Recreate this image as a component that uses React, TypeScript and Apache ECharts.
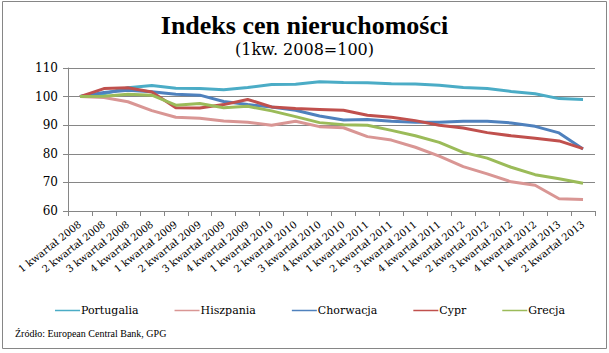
import React, { useEffect, useRef } from "react";
import * as echarts from "echarts";

const categories = [
  "1 kwartał 2008", "2 kwartał 2008", "3 kwartał 2008", "4 kwartał 2008",
  "1 kwartał 2009", "2 kwartał 2009", "3 kwartał 2009", "4 kwartał 2009",
  "1 kwartał 2010", "2 kwartał 2010", "3 kwartał 2010", "4 kwartał 2010",
  "1 kwartał 2011", "2 kwartał 2011", "3 kwartał 2011", "4 kwartał 2011",
  "1 kwartał 2012", "2 kwartał 2012", "3 kwartał 2012", "4 kwartał 2012",
  "1 kwartał 2013", "2 kwartał 2013",
];

const portugalia = [100, 101, 103.1, 103.9, 102.9, 102.8, 102.4, 103.2, 104.2, 104.3, 105.2, 104.9, 104.8, 104.5, 104.4, 104.0, 103.2, 102.8, 101.8, 101.0, 99.3, 99.0];
const hiszpania = [100, 99.7, 98.2, 95.1, 92.8, 92.4, 91.5, 91.0, 90.0, 91.4, 89.5, 89.1, 86.0, 84.8, 82.3, 79.2, 75.5, 73.0, 70.2, 69.0, 64.3, 64.0];
const chorwacja = [100, 101.4, 102.2, 101.7, 100.8, 100.5, 98.3, 97.2, 96.4, 95.2, 93.2, 91.8, 92.0, 91.4, 91.0, 91.0, 91.4, 91.4, 90.8, 89.6, 87.3, 81.7];
const cypr = [100, 102.8, 103.1, 101.6, 96.1, 96.0, 97.2, 99.0, 96.4, 95.8, 95.5, 95.2, 93.5, 92.8, 91.6, 90.0, 89.0, 87.4, 86.3, 85.4, 84.5, 81.8];
const grecja = [100, 100.1, 100.8, 100.5, 97.0, 97.6, 96.1, 96.6, 95.0, 93.0, 90.9, 90.2, 90.0, 88.2, 86.3, 84.0, 80.5, 78.5, 75.3, 72.7, 71.3, 69.7];

const seriesNames = ["Portugalia", "Hiszpania", "Chorwacja", "Cypr", "Grecja"];
const seriesData = [portugalia, hiszpania, chorwacja, cypr, grecja];
const seriesColors = ["#4BACC6", "#D99694", "#4F81BD", "#C0504D", "#9BBB59"];

const titleText = "Indeks cen nieruchomości";
const subtitleText = "(1kw. 2008=100)";
const sourceText = "Źródło: European Central Bank, GPG";

const FONT = "Liberation Serif";
const FONT2 = "DejaVu Serif";

export default function App() {
  const ref = useRef<HTMLDivElement>(null);
  useEffect(() => {
    document.body.style.margin = "0";
    if (!ref.current) return;
    const chart = echarts.init(ref.current, null, { renderer: "svg" });
    chart.setOption({
      animation: false,
      backgroundColor: "#ffffff",
      color: seriesColors,
      textStyle: { fontFamily: FONT2 },
      title: [
        {
          text: titleText,
          left: "center",
          top: 7,
          textStyle: { fontFamily: FONT, fontWeight: "bold", fontSize: 26, color: "#000" },
        },
        {
          text: subtitleText,
          left: "center",
          top: 36,
          textStyle: { fontFamily: FONT2, fontWeight: "normal", fontSize: 16, color: "#000" },
        },
      ],
      legend: {
        left: 50,
        top: 300,
        icon: "rect",
        itemWidth: 25,
        itemHeight: 1.5,
        itemGap: 36,
        textStyle: { fontFamily: FONT2, fontSize: 11, color: "#000", padding: [0, 0, 0, -4] },
        data: seriesNames,
      },
      grid: { left: 68, top: 68, width: 527, height: 143, containLabel: false },
      xAxis: {
        type: "category",
        data: categories,
        boundaryGap: true,
        axisLine: { show: true, lineStyle: { color: "#868686", width: 1 } },
        axisTick: { show: true, length: 5, lineStyle: { color: "#868686" } },
        axisLabel: { interval: 0, rotate: 38, margin: 12, fontFamily: FONT2, fontSize: 10, color: "#000" },
        splitLine: { show: false },
      },
      yAxis: {
        type: "value",
        min: 60,
        max: 110,
        interval: 10,
        axisLine: { show: true, lineStyle: { color: "#868686", width: 1 } },
        axisTick: { show: true, length: 5, lineStyle: { color: "#868686" } },
        axisLabel: { margin: 10, fontFamily: FONT2, fontSize: 12, color: "#000" },
        splitLine: { show: true, lineStyle: { color: "#868686", width: 1 } },
      },
      series: seriesNames.map((name, i) => ({
        name,
        type: "line",
        data: seriesData[i],
        showSymbol: false,
        symbol: "none",
        lineStyle: { width: 3, color: seriesColors[i] },
        itemStyle: { color: seriesColors[i] },
      })),
      graphic: [
        {
          type: "rect",
          shape: { x: 2.5, y: 1.5, width: 604, height: 347 },
          style: { fill: "none", stroke: "#868686", lineWidth: 1 },
          silent: true,
        },
        {
          type: "text",
          left: 15,
          top: 328,
          style: { text: sourceText, fontFamily: FONT, fontSize: 10, fill: "#000" },
        },
      ],
    });
    return () => chart.dispose();
  }, []);
  return <div ref={ref} style={{ width: 609, height: 353 }} />;
}
